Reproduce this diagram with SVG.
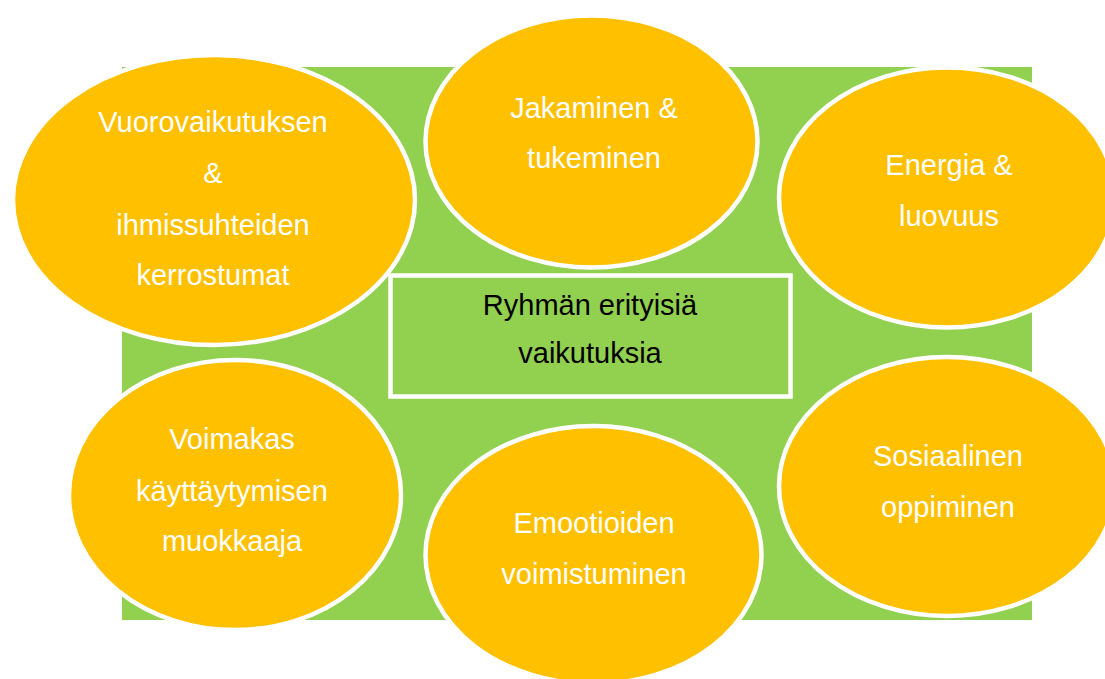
<svg xmlns="http://www.w3.org/2000/svg" width="1105" height="679" viewBox="0 0 1105 679">
  <style>
    .bubble { fill: #FFC000; stroke: #FFFFFF; stroke-width: 4.5; }
    .bubble-text { font-family: "Liberation Sans", Arial, sans-serif; font-size: 29px; fill: #FFFFFF; text-anchor: middle; }
    .core { fill: #92D050; stroke: #FFFFFF; stroke-width: 4.5; }
    .core-text { font-family: "Liberation Sans", Arial, sans-serif; font-size: 29px; fill: #000000; text-anchor: middle; }
  </style>

  <!-- green backdrop -->
  <rect id="backdrop" x="122" y="67" width="910" height="553" fill="#92D050"/>

  <!-- no connectors in this figure -->
  <g id="connectors"></g>

  <!-- central box -->
  <g id="center">
    <rect class="core" x="390.5" y="275.5" width="400" height="121"/>
    <text class="core-text" x="590" y="315">Ryhmän erityisiä</text>
    <text class="core-text" x="590" y="363">vaikutuksia</text>
  </g>

  <g id="vuorovaikutus">
    <ellipse class="bubble" cx="214" cy="200" rx="201" ry="145"/>
    <text class="bubble-text" x="213" y="132">Vuorovaikutuksen</text>
    <text class="bubble-text" x="213" y="183">&amp;</text>
    <text class="bubble-text" x="213" y="235">ihmissuhteiden</text>
    <text class="bubble-text" x="213" y="285">kerrostumat</text>
  </g>

  <g id="jakaminen">
    <ellipse class="bubble" cx="591.5" cy="141.5" rx="166" ry="126"/>
    <text class="bubble-text" x="594" y="118">Jakaminen &amp;</text>
    <text class="bubble-text" x="594" y="168">tukeminen</text>
  </g>

  <g id="energia">
    <ellipse class="bubble" cx="947" cy="197.5" rx="168" ry="130"/>
    <text class="bubble-text" x="949" y="175">Energia &amp;</text>
    <text class="bubble-text" x="949" y="226">luovuus</text>
  </g>

  <g id="sosiaalinen">
    <ellipse class="bubble" cx="947" cy="486.5" rx="168" ry="129.5"/>
    <text class="bubble-text" x="948" y="466">Sosiaalinen</text>
    <text class="bubble-text" x="948" y="517">oppiminen</text>
  </g>

  <g id="voimakas">
    <ellipse class="bubble" cx="235" cy="495" rx="166" ry="135"/>
    <text class="bubble-text" x="232" y="449">Voimakas</text>
    <text class="bubble-text" x="232" y="501">käyttäytymisen</text>
    <text class="bubble-text" x="232" y="551">muokkaaja</text>
  </g>

  <g id="emootiot">
    <ellipse class="bubble" cx="593.5" cy="555" rx="168" ry="129"/>
    <text class="bubble-text" x="594" y="533">Emootioiden</text>
    <text class="bubble-text" x="594" y="584">voimistuminen</text>
  </g>
</svg>
